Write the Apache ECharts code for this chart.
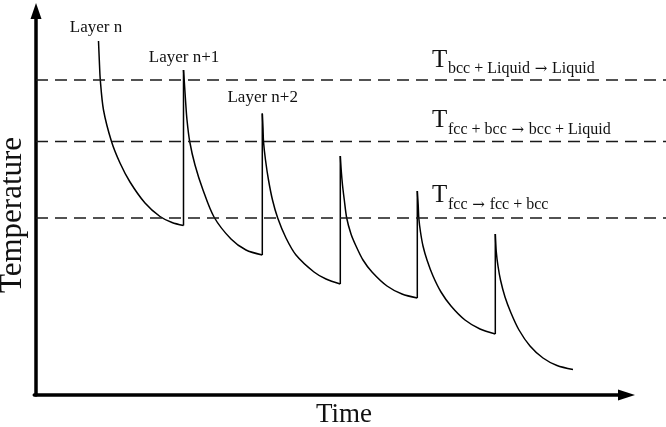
<!DOCTYPE html>
<html>
<head>
<meta charset="utf-8">
<script src="https://cdn.jsdelivr.net/npm/echarts@6/dist/echarts.min.js"></script>
<style>html,body{margin:0;padding:0;background:#fff}#c{width:666px;height:427px}</style>
</head>
<body>
<div id="c"></div>
<script>
// Time (x) and Temperature (y) in arbitrary schematic units
const layerN  = [[62.5,354],[63.3,335],[64.3,315],[67.5,285],[75.5,253.5],[84,232],[94,213],[109,192],[124,178.5],[136,172.5],[147.5,169.5]];
const layerN1 = [[147.5,325],[148.2,315],[149.5,295],[151,275],[153.7,253.5],[159,230],[167,205],[178,178],[195,156],[210,145],[226.3,140]];
const layerN2 = [[226.3,281.5],[227,267],[227.5,253.5],[229.5,235],[232.5,215],[236.5,195],[241.7,177],[250,157],[260,140],[278,123],[290,116],[304.3,111]];
const layerN3 = [[304.3,239],[305.2,225],[306.5,210],[308.3,195],[310.7,177],[315,161],[320,149],[327,135],[336,123],[351,109],[366,101],[381.3,97]];
const layerN4 = [[381.3,204],[382.2,190],[382.8,177],[384.5,163],[387,149],[391,135],[397,119],[405,103],[415,89],[429,75],[444,66],[459.3,61]];
const layerN5 = [[459.3,161],[460.3,143],[462,129],[464.5,115],[469,98],[475,82],[483,65],[494,49],[507,37],[521,29.5],[537,25.5]];
const layers = [layerN, layerN1, layerN2, layerN3, layerN4, layerN5];

// transition temperatures (dashed lines)
const transitionTemps = [315, 253.5, 177];
const timeRange = [0, 630];
const tempRange = [0, 384];

const layerLabels = ['Layer n', 'Layer n+1', 'Layer n+2'];
// subscript of each transition label: [from, to]
const transitionFrom = ['bcc + Liquid', 'fcc + bcc', 'fcc'];
const transitionTo = ['Liquid', 'bcc + Liquid', 'fcc + bcc'];

const serif = "'Liberation Serif','Times New Roman',serif";
const series = [];
layers.forEach((pts, i) => {
  series.push({
    type: 'line', xAxisIndex: 0, yAxisIndex: 0, data: pts, smooth: 0.3,
    showSymbol: false, symbol: 'none', silent: true, animation: false,
    lineStyle: { color: '#000', width: 1.5 }
  });
  if (i > 0) {
    const prev = layers[i - 1];
    series.push({
      type: 'line', xAxisIndex: 0, yAxisIndex: 0,
      data: [[pts[0][0], prev[prev.length - 1][1]], pts[0]],
      showSymbol: false, symbol: 'none', silent: true, animation: false,
      lineStyle: { color: '#000', width: 1.5 }
    });
  }
});
transitionTemps.forEach(t => {
  series.push({
    type: 'line', xAxisIndex: 0, yAxisIndex: 0,
    data: [[timeRange[0], t], [timeRange[1], t]],
    showSymbol: false, symbol: 'none', silent: true, animation: false,
    lineStyle: { color: '#1a1a1a', width: 1.7, type: [12, 7] }
  });
});

const layerPos = [[96, 27.4], [184, 57.4], [262.7, 97.7]];
const tPos = [[432, 60, 448, 68.7], [432, 120, 448, 129.7], [432, 195, 448, 204.7]];
const graphics = [];
layerLabels.forEach((s, i) => graphics.push({
  type: 'text', x: layerPos[i][0], y: layerPos[i][1],
  style: { text: s, font: '17px ' + serif, fill: '#111', align: 'center', verticalAlign: 'middle' }
}));
transitionFrom.forEach((s, i) => {
  graphics.push({ type: 'text', x: tPos[i][0], y: tPos[i][1],
    style: { text: 'T', font: '25px ' + serif, fill: '#111', align: 'left', verticalAlign: 'middle' } });
  graphics.push({ type: 'text', x: tPos[i][2], y: tPos[i][3],
    style: {
      text: '{s|' + s + '}{a|\u00a0\u2192\u00a0}{s|' + transitionTo[i] + '}',
      align: 'left', verticalAlign: 'middle',
      rich: {
        s: { fontFamily: serif, fontSize: 16, fill: '#111', color: '#111' },
        a: { fontFamily: "'DejaVu Serif', serif", fontSize: 15, fill: '#111', color: '#111' }
      }
    } });
});
graphics.push({ type: 'text', x: 13, y: 215, rotation: Math.PI / 2,
  style: { text: 'Temperature', font: '31px ' + serif, fill: '#111', align: 'center', verticalAlign: 'middle' } });
graphics.push({ type: 'text', x: 344, y: 415,
  style: { text: 'Time', font: '27px ' + serif, fill: '#111', align: 'center', verticalAlign: 'middle' } });

const axisLineStyle = { color: '#000', width: 3.5 };
const chart = echarts.init(document.getElementById('c'), null, { renderer: 'canvas' });
chart.setOption({
  animation: false,
  backgroundColor: '#fff',
  grid: [
    { left: 36, right: 0, top: 11, bottom: 32 },
    { left: 34.25, right: 39.5, top: 11, bottom: 32 }
  ],
  xAxis: [
    { type: 'value', gridIndex: 0, min: timeRange[0], max: timeRange[1], show: false },
    { type: 'value', gridIndex: 1, min: 0, max: 1,
      axisLine: { show: true, onZero: false, symbol: ['none', 'triangle'], symbolSize: [11, 17], lineStyle: axisLineStyle },
      axisTick: { show: false }, axisLabel: { show: false }, splitLine: { show: false } }
  ],
  yAxis: [
    { type: 'value', gridIndex: 0, min: tempRange[0], max: tempRange[1],
      axisLine: { show: true, onZero: false, symbol: ['none', 'triangle'], symbolSize: [11, 16], lineStyle: axisLineStyle },
      axisTick: { show: false }, axisLabel: { show: false }, splitLine: { show: false } },
    { type: 'value', gridIndex: 1, min: 0, max: 1, show: false }
  ],
  series: series,
  graphic: graphics
});
</script>
</body>
</html>
